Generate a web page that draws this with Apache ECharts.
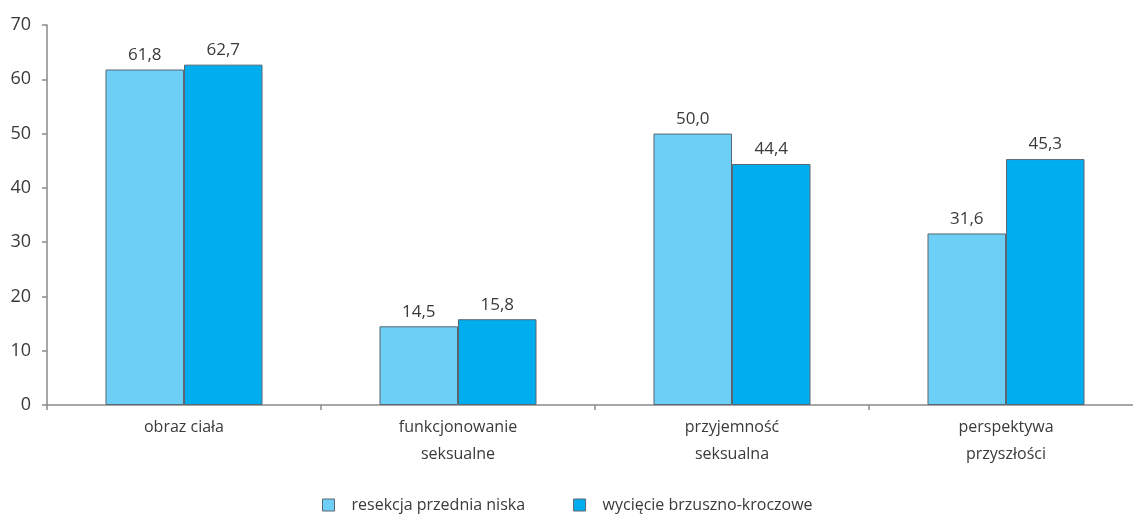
<!DOCTYPE html>
<html><head><meta charset="utf-8">
<script src="https://cdn.jsdelivr.net/npm/echarts@6/dist/echarts.min.js"></script>
<style>html,body{margin:0;padding:0;background:#fff}#c{width:1133px;height:515px}</style>
</head><body><div id="c"></div>
<script>
const categories = ["obraz ciała", "funkcjonowanie\nseksualne", "przyjemność\nseksualna", "perspektywa\nprzyszłości"];
const seriesNames = ["resekcja przednia niska", "wycięcie brzuszno-kroczowe"];
const resekcja = [61.8, 14.5, 50.0, 31.6];
const wyciecie = [62.7, 15.8, 44.4, 45.3];
const colors = ["#6dcff6", "#00aeef"];
const font = "'Open Sans', sans-serif";
const chart = echarts.init(document.getElementById('c'), null, {renderer: 'canvas'});
function mk(name, data, color) {
  return {
    name, type: 'bar', data, barGap: '0%', barCategoryGap: '42.7%',
    itemStyle: {color, borderColor: '#5a6670', borderWidth: 1},
    label: {show: true, position: 'top', distance: 6, color: '#3a3a3a', fontFamily: font, fontSize: 17,
      formatter: p => p.value.toFixed(1).replace('.', ',')},
    animation: false
  };
}
chart.setOption({
  animation: false,
  grid: {left: 47, width: 1096, top: 25, bottom: 110, containLabel: false, outerBoundsMode: 'none'},
  legend: {
    bottom: -3, left: 317, itemWidth: 12, itemHeight: 12, itemGap: 48,
    textStyle: {fontFamily: font, fontSize: 16, color: '#3a3a3a', padding: [0, 0, 0, 12]},
    itemStyle: {borderColor: '#5a6670', borderWidth: 1},
    data: seriesNames.map(n => ({name: n, icon: 'rect'}))
  },
  xAxis: {
    type: 'category', data: categories,
    axisLine: {lineStyle: {color: '#8a8a8a', width: 1.5}},
    axisTick: {show: true, length: 5, lineStyle: {color: '#8a8a8a', width: 1.5}},
    axisLabel: {fontFamily: font, fontSize: 16, color: '#3a3a3a', margin: 9, lineHeight: 27}
  },
  yAxis: {
    type: 'value', min: 0, max: 70, interval: 10,
    axisLine: {show: true, lineStyle: {color: '#8a8a8a', width: 1.5}},
    axisTick: {show: true, length: 5, lineStyle: {color: '#8a8a8a', width: 1.5}},
    splitLine: {show: false},
    axisLabel: {fontFamily: font, fontSize: 18, color: '#3a3a3a', margin: 16}
  },
  series: [mk(seriesNames[0], resekcja, colors[0]), mk(seriesNames[1], wyciecie, colors[1])]
});
</script></body></html>
